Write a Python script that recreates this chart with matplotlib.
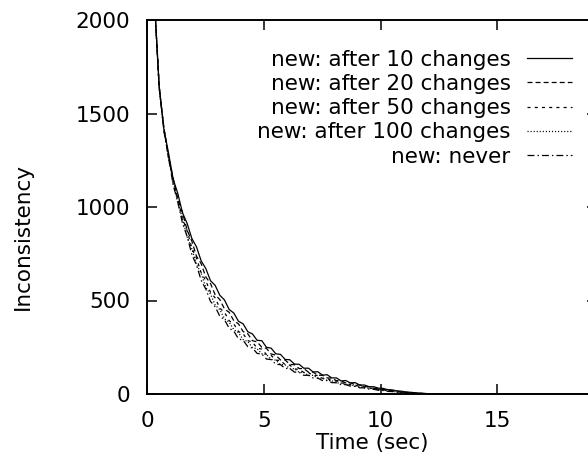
import numpy as np
import matplotlib.pyplot as plt

plt.rcParams['font.family'] = ['DejaVu Sans']
plt.rcParams['lines.scale_dashes'] = False

# tiempos de muestreo (s)
tiempo = [0.3, 0.5, 0.7, 0.9, 1.1, 1.3, 1.5, 1.7, 1.9, 2.1,
          2.3, 2.5, 2.7, 2.9, 3.1, 3.3, 3.5, 3.7, 3.9, 4.1,
          4.3, 4.5, 4.7, 4.9, 5.1, 5.3, 5.5, 5.7, 5.9, 6.1,
          6.3, 6.5, 6.7, 6.9, 7.1, 7.3, 7.5, 7.7, 7.9, 8.1,
          8.3, 8.5, 8.7, 8.9, 9.1, 9.3, 9.5, 9.7, 9.9, 10.1,
          10.3, 10.5, 10.7, 10.9, 11.1, 11.3, 11.5, 11.7, 11.9, 12.1,
          12.5, 19.5]

after10 = [2100, 1648, 1418, 1290, 1149, 1072, 969, 912, 832, 787,
           712, 671, 606, 581, 528, 503, 452, 433, 389, 375,
           333, 321, 287, 285, 250, 245, 215, 212, 185, 183,
           160, 159, 138, 138, 118, 119, 101, 103, 86, 86,
           70, 72, 59, 61, 48, 48, 39, 39, 31, 30,
           23, 22, 16, 15, 10, 9, 6, 5, 3, 1,
           0, 0]

after20 = [2100, 1637, 1429, 1265, 1154, 1041, 971, 876, 818, 737,
           697, 626, 591, 531, 505, 455, 437, 392, 375, 334,
           322, 285, 279, 250, 244, 214, 208, 182, 182, 158,
           157, 136, 136, 117, 117, 100, 100, 86, 85, 71,
           70, 59, 60, 50, 49, 39, 39, 30, 31, 24,
           23, 17, 16, 10, 10, 7, 5, 3, 2, 1,
           0, 0]

after50 = [2100, 1645, 1414, 1276, 1127, 1045, 937, 873, 781, 726,
           649, 606, 544, 514, 459, 437, 392, 375, 334, 322,
           286, 277, 246, 240, 211, 207, 181, 179, 157, 154,
           134, 132, 115, 115, 99, 99, 84, 84, 70, 70,
           58, 59, 49, 49, 39, 39, 31, 31, 25, 23,
           18, 16, 11, 10, 7, 6, 4, 3, 1, 1,
           0, 0]

after100 = [2100, 1633, 1424, 1257, 1140, 1020, 939, 839, 777, 693,
            646, 570, 534, 476, 451, 402, 385, 344, 328, 291,
            280, 248, 242, 215, 211, 185, 181, 157, 156, 136,
            135, 116, 116, 99, 100, 85, 85, 72, 71, 59,
            59, 50, 51, 41, 40, 32, 32, 25, 24, 19,
            18, 13, 12, 8, 6, 5, 3, 2, 1, 0,
            0, 0]

never = [2100, 1644, 1408, 1269, 1117, 1027, 913, 843, 746, 690,
         608, 561, 495, 467, 416, 397, 352, 336, 295, 287,
         253, 246, 217, 214, 187, 184, 159, 157, 137, 136,
         117, 116, 100, 100, 86, 85, 72, 72, 61, 60,
         50, 50, 42, 41, 33, 33, 26, 25, 20, 19,
         14, 13, 9, 7, 5, 4, 2, 2, 1, 0,
         0, 0]

series = [
    ('new: after 10 changes', after10, '-'),
    ('new: after 20 changes', after20, (0, (3.6, 2.2))),
    ('new: after 50 changes', after50, (0, (2.2, 3.0))),
    ('new: after 100 changes', after100, (0, (0.8, 1.4))),
    ('new: never', never, (0, (5.0, 2.2, 1.0, 2.2))),
]

W, H = 588, 457
fig = plt.figure(figsize=(W/100, H/100), dpi=100)
# el eje derecho queda fuera de la imagen (recortada)
x0, x1, y0, y1 = 147.5, 597, 394, 20
ax = fig.add_axes([x0/W, (H-y0)/H, (x1-x0)/W, (y0-y1)/H])

for nombre, valores, estilo in series:
    ax.plot(tiempo, valores, color='black', lw=0.9, linestyle=estilo, label=nombre)

ax.set_xlim(0, 19.27)
ax.set_ylim(0, 2000)
ax.set_xticks([0, 5, 10, 15])
ax.set_yticks([0, 500, 1000, 1500, 2000])

fs = 15.5
for s in ax.spines.values():
    s.set_linewidth(1.4)
ax.tick_params(direction='in', length=7.5, width=1.1, top=True, right=True,
               labelsize=fs, pad=12.5)

ax.set_xlabel('Time (sec)', fontsize=fs)
ax.xaxis.label.set_va('center')
ax.xaxis.set_label_coords(0.5, -(443-y0)/(y0-y1))
ax.set_ylabel('Inconsistency', fontsize=fs)
ax.yaxis.label.set_va('center')
ax.yaxis.set_label_coords((23-x0)/(x1-x0), (y0-236)/(y0-y1))

ax.legend(loc='upper right', bbox_to_anchor=(572/W, (H-49.5)/H),
          bbox_transform=fig.transFigure, frameon=False, markerfirst=False,
          fontsize=fs, handlelength=2.1, handletextpad=0.75,
          labelspacing=0.2, borderpad=0, borderaxespad=0)

fig.savefig('out.png', dpi=100)
